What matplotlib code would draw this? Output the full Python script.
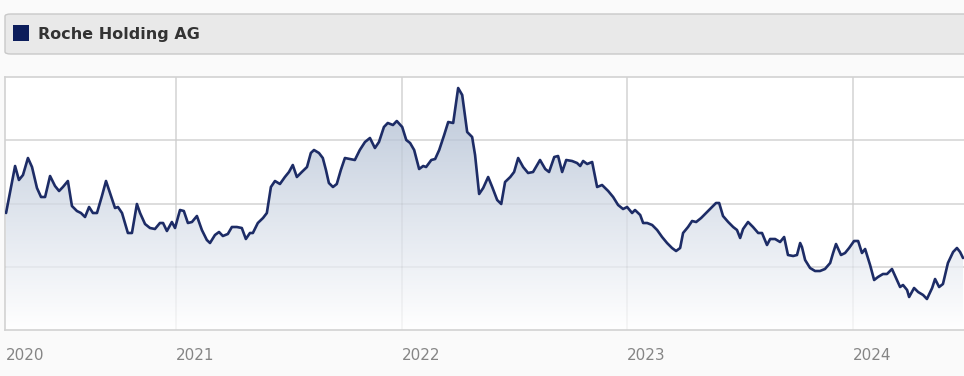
import numpy as np
import matplotlib
matplotlib.use("Agg")
import matplotlib.pyplot as plt
from matplotlib.patches import FancyBboxPatch, Rectangle, Polygon
from matplotlib.colors import LinearSegmentedColormap

# ---- data (decimal year, price level) ----
dates = [
    2020.247, 2020.287, 2020.304, 2020.322, 2020.344, 2020.362, 2020.384, 2020.402, 2020.420, 2020.442,
    2020.464, 2020.482, 2020.499, 2020.521, 2020.539, 2020.561, 2020.579, 2020.597, 2020.615, 2020.632,
    2020.650, 2020.672, 2020.690, 2020.708, 2020.730, 2020.743, 2020.761, 2020.787, 2020.805, 2020.827,
    2020.841, 2020.863, 2020.885, 2020.907, 2020.929, 2020.943, 2020.960, 2020.982, 2020.996,
    2021.018, 2021.035, 2021.053, 2021.071, 2021.093, 2021.115, 2021.137, 2021.151, 2021.173, 2021.191,
    2021.208, 2021.230, 2021.248, 2021.270, 2021.292, 2021.310, 2021.328, 2021.341, 2021.363, 2021.386,
    2021.403, 2021.421, 2021.439, 2021.461, 2021.483, 2021.501, 2021.518, 2021.536, 2021.558, 2021.581,
    2021.598, 2021.612, 2021.634, 2021.651, 2021.665, 2021.678, 2021.696, 2021.713, 2021.731, 2021.749,
    2021.771, 2021.793, 2021.815, 2021.838, 2021.860, 2021.882, 2021.900, 2021.922, 2021.939, 2021.962,
    2021.979,
    2022.003, 2022.021, 2022.038, 2022.056, 2022.078, 2022.096, 2022.109, 2022.132, 2022.149, 2022.167,
    2022.189, 2022.207, 2022.229, 2022.251, 2022.269, 2022.291, 2022.313, 2022.326, 2022.344, 2022.362,
    2022.384, 2022.402, 2022.424, 2022.442, 2022.459, 2022.482, 2022.499, 2022.517, 2022.539, 2022.561,
    2022.583, 2022.614, 2022.637, 2022.654, 2022.677, 2022.694, 2022.712, 2022.730, 2022.756, 2022.778,
    2022.792, 2022.805, 2022.823, 2022.845, 2022.867, 2022.889, 2022.916, 2022.938, 2022.960, 2022.982,
    2023.000, 2023.022, 2023.035, 2023.058, 2023.071, 2023.089, 2023.111, 2023.133, 2023.155, 2023.177,
    2023.199, 2023.217, 2023.235, 2023.248, 2023.270, 2023.288, 2023.306, 2023.328, 2023.350, 2023.377,
    2023.394, 2023.408, 2023.425, 2023.448, 2023.470, 2023.487, 2023.501, 2023.514, 2023.536, 2023.558,
    2023.581, 2023.598, 2023.620, 2023.634, 2023.656, 2023.678, 2023.696, 2023.713, 2023.736, 2023.753,
    2023.767, 2023.775, 2023.789, 2023.811, 2023.833, 2023.855, 2023.877, 2023.900, 2023.913, 2023.926,
    2023.948, 2023.966, 2023.984,
    2024.006, 2024.024, 2024.041, 2024.055, 2024.077, 2024.095, 2024.112, 2024.134, 2024.152, 2024.174,
    2024.196, 2024.210, 2024.223, 2024.241, 2024.250, 2024.272, 2024.290, 2024.312, 2024.329, 2024.352,
    2024.365, 2024.383, 2024.400, 2024.422, 2024.445, 2024.462, 2024.476, 2024.489,
]

prices = [
    207, 254, 240, 245, 262, 253, 232, 223, 223, 244,
    234, 229, 233, 239, 214, 209, 207, 203, 213, 207,
    207, 224, 239, 227, 212, 213, 207, 187, 187, 216,
    207, 196, 192, 191, 197, 197, 189, 198, 192,
    210, 209, 197, 198, 204, 190, 180, 177, 185, 188,
    184, 186, 193, 193, 192, 181, 187, 187, 197, 202,
    207, 233, 239, 236, 243, 248, 255, 243, 248, 253,
    267, 270, 267, 262, 250, 237, 233, 236, 250, 262,
    261, 260, 270, 278, 282, 272, 278, 293, 297, 295,
    299,
    293, 280, 277, 270, 251, 254, 253, 260, 261, 270,
    285, 298, 297, 332, 325, 288, 283, 265, 226, 232,
    243, 233, 220, 216, 238, 243, 248, 262, 253, 247,
    248, 260, 251, 248, 263, 264, 248, 260, 259, 257,
    254, 259, 256, 258, 233, 235, 229, 223, 215, 211,
    213, 207, 210, 205, 197, 197, 195, 190, 183, 177,
    172, 169, 172, 187, 193, 199, 198, 202, 207, 213,
    217, 217, 204, 198, 193, 190, 182, 191, 198, 193,
    187, 187, 175, 181, 181, 178, 183, 165, 164, 165,
    177, 173, 160, 152, 149, 149, 151, 157, 167, 176,
    165, 167, 172, 179, 179,
    167, 171, 155, 140, 143, 146, 146, 151, 140, 133,
    135, 130, 123, 132, 128, 125, 121, 132, 141, 133,
    136, 157, 168, 172, 168, 162,
]

year_ticks = [2021, 2022, 2023, 2024]
tick_labels = ["2020", "2021", "2022", "2023", "2024"]
series_name = "Roche Holding AG"

x_start, x_end = 2020.2423, 2024.4933
y_min, y_max = 90, 343

# ---- figure ----
W, H = 964, 376
fig = plt.figure(figsize=(W / 100, H / 100), dpi=100)
fig.patch.set_facecolor("#fafafa")

# header box
hdr = FancyBboxPatch((5 / W, (H - 54) / H), 980 / W, 40 / H,
                     boxstyle="round,pad=0,rounding_size=0.006",
                     transform=fig.transFigure, facecolor="#e9e9e9",
                     edgecolor="#c9c9c9", linewidth=1.0, zorder=1)
fig.patches.append(hdr)
fig.patches.append(Rectangle((13 / W, (H - 41) / H), 16 / W, 16 / H,
                             transform=fig.transFigure, facecolor="#0c1d5b",
                             edgecolor="none", zorder=2))
fig.text(38 / W, (H - 34) / H, series_name, fontsize=11.5, fontweight="bold",
         color="#333333", va="center", ha="left", family="DejaVu Sans")

ax = fig.add_axes([5 / W, (H - 330) / H, 959 / W, 253 / H])
ax.set_facecolor("white")
ax.set_xlim(x_start, x_end)
ax.set_ylim(y_min, y_max)

# grid: opaque below the fill, faint overlay above it
for yv in np.linspace(y_min, y_max, 5)[1:-1]:
    ax.axhline(yv, color="#e2e2e2", lw=1.2, zorder=0.5)
    ax.axhline(yv, color=(0, 0, 0, 0.045), lw=1.2, zorder=2)
for xv in year_ticks:
    ax.axvline(xv, color="#e2e2e2", lw=1.2, zorder=0.5)
    ax.axvline(xv, color=(0, 0, 0, 0.045), lw=1.2, zorder=2)

# gradient fill
verts = list(zip(dates, prices)) + [(dates[-1], y_min), (dates[0], y_min)]
poly = Polygon(verts, closed=True, facecolor="none", edgecolor="none")
ax.add_patch(poly)
cmap = LinearSegmentedColormap.from_list("g", ["#ffffff", "#dde3ec", "#b9c5d7"])
grad = np.linspace(0, 1, 256).reshape(-1, 1)
im = ax.imshow(grad, extent=[x_start, x_end, y_min, y_max], origin="lower",
               aspect="auto", cmap=cmap, zorder=1, interpolation="bicubic")
im.set_clip_path(poly)

ax.plot(dates, prices, color="#1d2c66", lw=1.9, zorder=3,
        solid_joinstyle="round", solid_capstyle="round")

# spines
for side in ["left", "top", "bottom"]:
    ax.spines[side].set_color("#d2d2d2")
    ax.spines[side].set_linewidth(1.2)
ax.spines["right"].set_visible(False)

ax.set_yticks([])
ax.set_xticks([x_start + 0.006] + year_ticks)
ax.set_xticklabels(tick_labels, fontsize=11, color="#858585")
for lbl in ax.get_xticklabels():
    lbl.set_ha("left")
ax.tick_params(axis="x", length=0, pad=13)

fig.savefig("out.png", dpi=100, facecolor=fig.get_facecolor())
